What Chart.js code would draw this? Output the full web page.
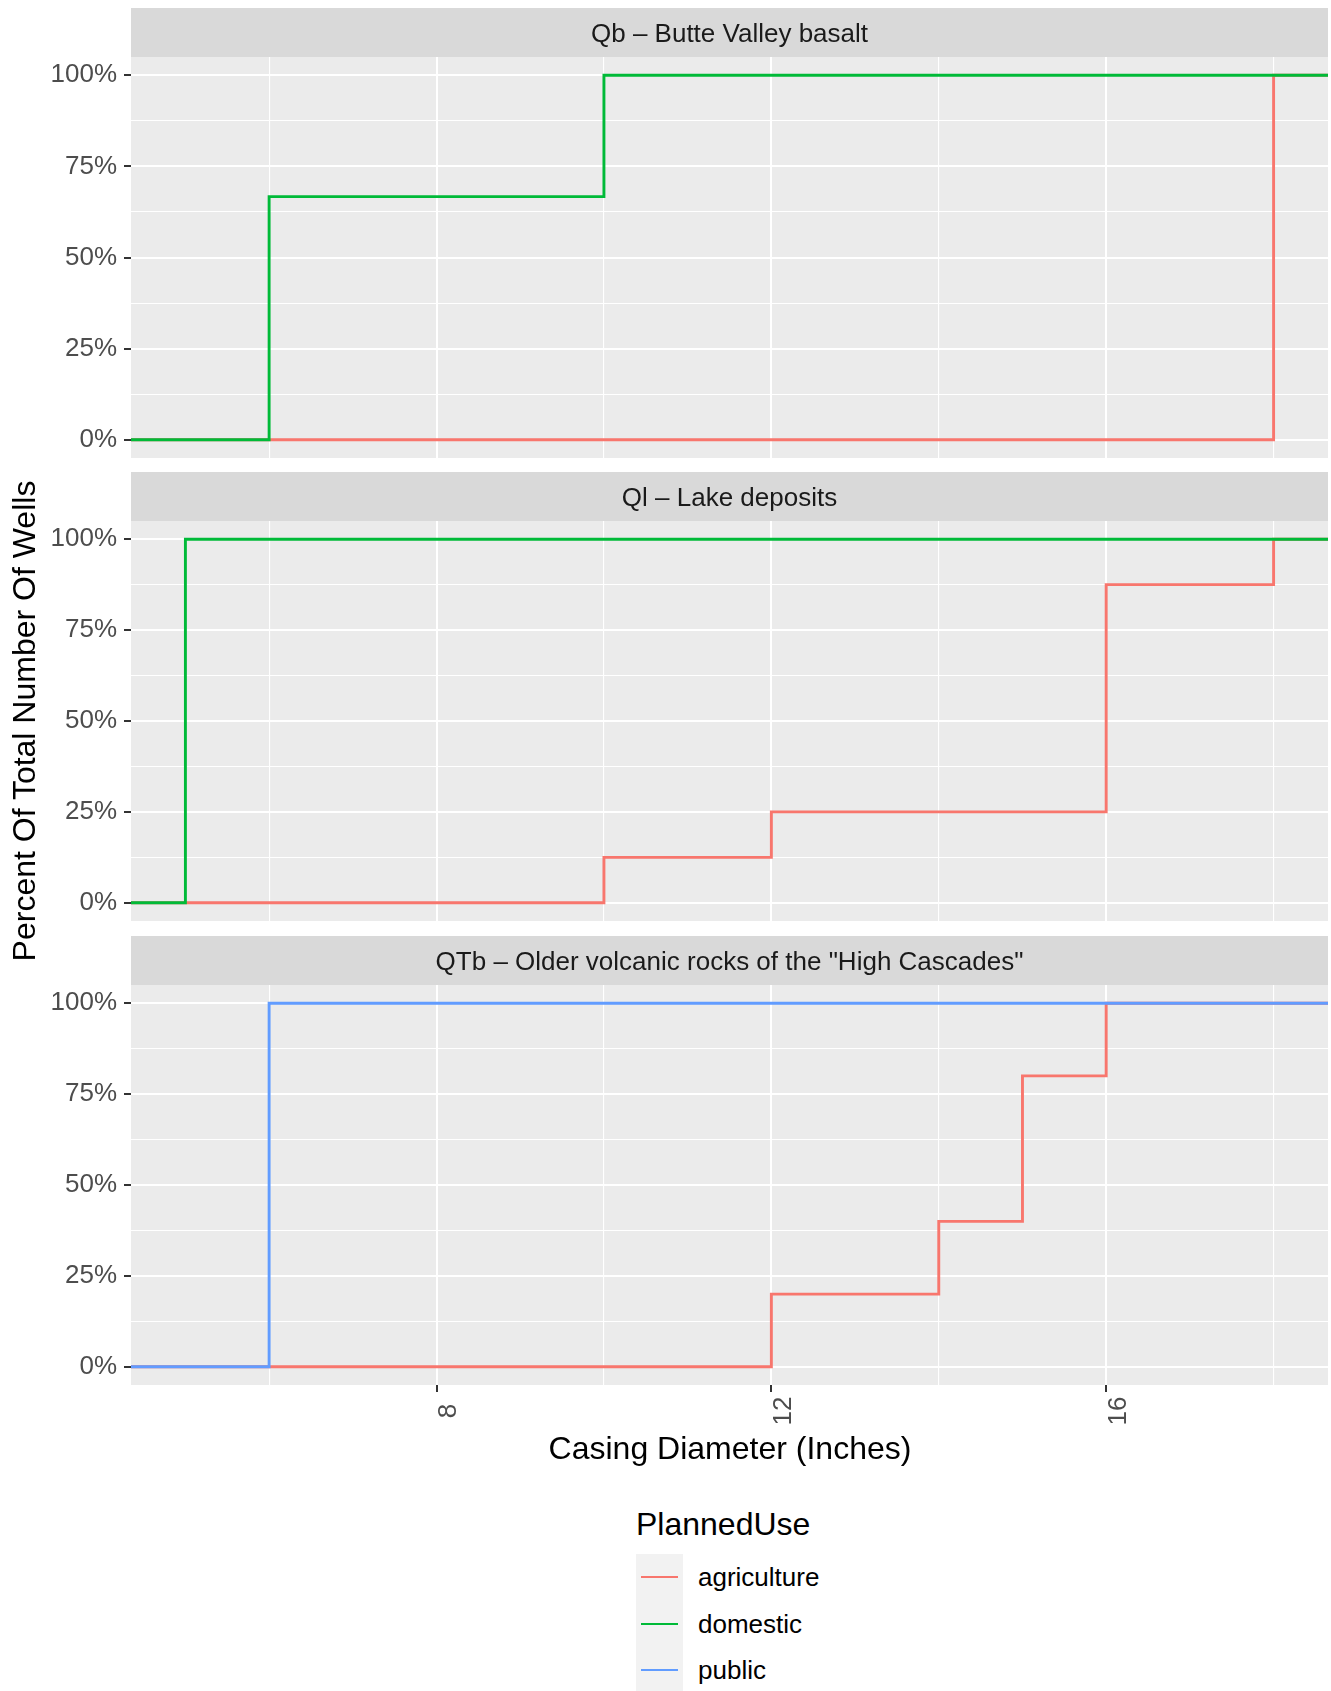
<!DOCTYPE html>
<html><head><meta charset="utf-8">
<script src="https://cdn.jsdelivr.net/npm/chart.js@4/dist/chart.umd.min.js"></script>
<style>
html,body{margin:0;padding:0;background:#fff;width:1331px;height:1691px;overflow:hidden;font-family:"Liberation Sans",Arial,sans-serif;}
canvas{position:absolute;left:0;}
.t{position:absolute;white-space:nowrap;}
</style></head><body>
<canvas id="c1" width="1331" height="450" style="top:8px"></canvas>
<canvas id="c2" width="1331" height="449" style="top:472px"></canvas>
<canvas id="c3" width="1331" height="499" style="top:936px"></canvas>

<div class="t" style="left:-276px;top:703px;width:600px;line-height:36px;font-size:32px;text-align:center;color:#000;transform:rotate(-90deg);transform-origin:50% 50%;">Percent Of Total Number Of Wells</div>
<div class="t" style="left:330px;top:1430px;width:800px;line-height:36px;font-size:32px;text-align:center;color:#000;">Casing Diameter (Inches)</div>

<div class="t" style="left:636px;top:1506px;line-height:36px;font-size:32px;color:#000;">PlannedUse</div>
<div class="t" style="left:636px;top:1554px;width:47px;height:137px;background:#F2F2F2;"></div>
<div id="legendItems"></div>

<script>
// ---- data ----
const panelTitles = ['Qb \u2013 Butte Valley basalt', 'Ql \u2013 Lake deposits', 'QTb \u2013 Older volcanic rocks of the "High Cascades"'];
const plannedUse = ['agriculture', 'domestic', 'public'];
const useColors = ['#F8766D', '#00BA38', '#619CFF'];
const xTickLabels = [8, 12, 16];
const yTickLabels = [0, 25, 50, 75, 100];

// Qb – Butte Valley basalt
const qbAgricultureX = [18];
const qbAgricultureY = [100];
const qbDomesticX = [6, 10];
const qbDomesticY = [66.7, 100];
// Ql – Lake deposits
const qlAgricultureX = [10, 12, 16, 18];
const qlAgricultureY = [12.5, 25, 87.5, 100];
const qlDomesticX = [5];
const qlDomesticY = [100];
// QTb – Older volcanic rocks
const qtbAgricultureX = [12, 14, 15, 16];
const qtbAgricultureY = [20, 40, 80, 100];
const qtbPublicX = [6];
const qtbPublicY = [100];

// ---- scale ranges (ggplot-like 5% expansion) ----
const allX = [].concat(qbAgricultureX, qbDomesticX, qlAgricultureX, qlDomesticX, qtbAgricultureX, qtbPublicX);
const dMin = Math.min(...allX), dMax = Math.max(...allX);
const xMin = dMin - 0.05 * (dMax - dMin), xMax = dMax + 0.05 * (dMax - dMin);
const yMin = -5, yMax = 105;

function withMinor(major, lo, hi) {
  const step = major[1] - major[0];
  const out = [];
  for (let v = major[0] - step; v <= major[major.length - 1] + step + 1e-9; v += step / 2) {
    if (v >= lo && v <= hi) out.push(Math.round(v * 1000) / 1000);
  }
  return out;
}
const xAll = withMinor(xTickLabels, xMin, xMax);
const yAll = withMinor(yTickLabels, yMin, yMax);

const FONT = '"Liberation Sans", Arial, sans-serif';

const panelDecor = {
  id: 'panelDecor',
  beforeDraw(chart, args, opts) {
    const { ctx, chartArea: a } = chart;
    ctx.save();
    ctx.fillStyle = '#EBEBEB';
    ctx.fillRect(a.left, a.top, a.right - a.left, a.bottom - a.top);
    ctx.fillStyle = '#D9D9D9';
    ctx.fillRect(a.left, a.top - 49, a.right - a.left, 49);
    ctx.fillStyle = '#1A1A1A';
    ctx.font = '26px ' + FONT;
    ctx.textAlign = 'center';
    ctx.textBaseline = 'middle';
    ctx.fillText(opts.title, (a.left + a.right) / 2, a.top - 22.5);
    ctx.restore();
  },
  afterDraw(chart, args, opts) {
    if (!opts.showX) return;
    const { ctx, chartArea: a } = chart;
    const xs = chart.scales.x;
    ctx.save();
    ctx.fillStyle = '#4D4D4D';
    ctx.font = '26px ' + FONT;
    ctx.textAlign = 'center';
    ctx.textBaseline = 'alphabetic';
    xTickLabels.forEach(v => {
      const px = xs.getPixelForValue(v);
      ctx.save();
      ctx.translate(px, a.bottom + 26);
      ctx.rotate(-Math.PI / 2);
      ctx.fillText(String(v), 0, 19.5);
      ctx.restore();
    });
    ctx.restore();
  }
};

function makePanel(id, title, series, showX) {
  const datasets = series.map((s, i) => {
    const pts = [{ x: xMin, y: 0 }];
    s.xs.forEach((x, j) => pts.push({ x: x, y: s.ys[j] }));
    pts.push({ x: xMax, y: s.ys[s.ys.length - 1] });
    return {
      label: plannedUse[s.use],
      data: pts,
      borderColor: useColors[s.use],
      backgroundColor: useColors[s.use],
      borderWidth: 2.9,
      stepped: 'before',
      pointRadius: 0,
      fill: false,
      clip: 0,
      borderJoinStyle: 'miter',
      order: series.length - i
    };
  });
  new Chart(document.getElementById(id), {
    type: 'line',
    data: { datasets },
    options: {
      responsive: false,
      animation: false,
      events: [],
      layout: { autoPadding: false, padding: { top: 49, right: 3, left: 0, bottom: 0 } },
      plugins: { legend: { display: false }, tooltip: { enabled: false }, panelDecor: { title, showX } },
      scales: {
        x: {
          type: 'linear', min: xMin, max: xMax,
          afterBuildTicks: s => { s.ticks = xAll.map(v => ({ value: v })); },
          afterFit: s => {
            s.height = showX ? 50 : 0;
            s.paddingLeft = 0; s.paddingRight = 0; s.paddingTop = 0; s.paddingBottom = 0;
          },
          ticks: { display: false },
          grid: {
            color: '#FFFFFF',
            lineWidth: c => (c.tick && xTickLabels.includes(c.tick.value)) ? 2 : 1.1,
            drawTicks: showX, tickLength: 7, tickWidth: 2,
            tickColor: c => (c.tick && xTickLabels.includes(c.tick.value)) ? '#333333' : 'rgba(0,0,0,0)'
          },
          border: { display: false }
        },
        y: {
          type: 'linear', min: yMin, max: yMax,
          afterBuildTicks: s => { s.ticks = yAll.map(v => ({ value: v })); },
          afterFit: s => {
            s.width = 131;
            s.paddingLeft = 0; s.paddingRight = 0; s.paddingTop = 0; s.paddingBottom = 0;
          },
          ticks: {
            padding: 7, autoSkip: false, color: '#4D4D4D', font: { family: FONT, size: 26 },
            callback: v => yTickLabels.includes(v) ? v + '%' : ''
          },
          grid: {
            color: '#FFFFFF',
            lineWidth: c => (c.tick && yTickLabels.includes(c.tick.value)) ? 2 : 1.1,
            drawTicks: true, tickLength: 7, tickWidth: 2,
            tickColor: c => (c.tick && yTickLabels.includes(c.tick.value)) ? '#333333' : 'rgba(0,0,0,0)'
          },
          border: { display: false }
        }
      }
    },
    plugins: [panelDecor]
  });
}

makePanel('c1', panelTitles[0], [
  { use: 0, xs: qbAgricultureX, ys: qbAgricultureY },
  { use: 1, xs: qbDomesticX, ys: qbDomesticY }
], false);
makePanel('c2', panelTitles[1], [
  { use: 0, xs: qlAgricultureX, ys: qlAgricultureY },
  { use: 1, xs: qlDomesticX, ys: qlDomesticY }
], false);
makePanel('c3', panelTitles[2], [
  { use: 0, xs: qtbAgricultureX, ys: qtbAgricultureY },
  { use: 2, xs: qtbPublicX, ys: qtbPublicY }
], true);

// legend
const li = document.getElementById('legendItems');
const keyY = [1577, 1624, 1670];
plannedUse.forEach((u, i) => {
  const line = document.createElement('div');
  line.className = 't';
  line.style.cssText = `left:641px;top:${keyY[i] - 1.4}px;width:37px;height:2.8px;background:${useColors[i]};`;
  li.appendChild(line);
  const lab = document.createElement('div');
  lab.className = 't';
  lab.style.cssText = `left:698px;top:${keyY[i] - 16}px;line-height:32px;font-size:26px;color:#000;`;
  lab.textContent = u;
  li.appendChild(lab);
});
</script>
</body></html>
